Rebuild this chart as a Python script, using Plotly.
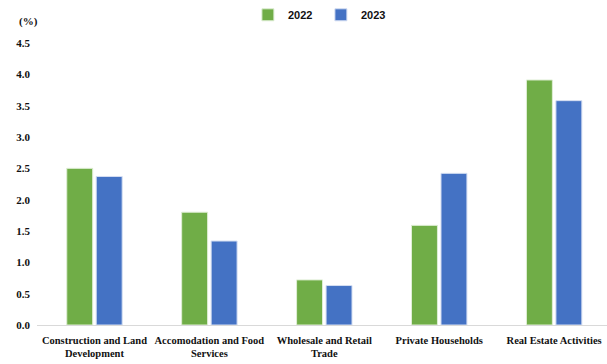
import plotly.graph_objects as go

categories = [
    "Construction and Land<br>Development",
    "Accomodation and Food<br>Services",
    "Wholesale and Retail<br>Trade",
    "Private Households",
    "Real Estate Activities",
]
values_2022 = [2.50, 1.80, 0.72, 1.59, 3.91]
values_2023 = [2.37, 1.34, 0.63, 2.42, 3.58]
y_ticks = [0.0, 0.5, 1.0, 1.5, 2.0, 2.5, 3.0, 3.5, 4.0, 4.5]

GREEN = "#70AD47"
BLUE = "#4472C4"
SERIF = "Liberation Serif"

fig = go.Figure()
fig.add_trace(go.Bar(
    name="2022", x=categories, y=values_2022,
    marker=dict(color=GREEN, line=dict(color="#dfeed5", width=1)),
))
fig.add_trace(go.Bar(
    name="2023", x=categories, y=values_2023,
    marker=dict(color=BLUE, line=dict(color="#d4def2", width=1)),
))

fig.update_layout(
    width=607, height=364,
    margin=dict(l=37, r=0, t=43, b=39, autoexpand=False),
    paper_bgcolor="white", plot_bgcolor="white",
    barmode="group", bargap=0.487, bargroupgap=0.12,
    showlegend=True,
    legend=dict(
        orientation="h", x=0.37, xanchor="left", y=1.1, yanchor="middle",
        font=dict(family="Liberation Sans", size=11, color="#111111", weight="bold"),
        entrywidth=28, entrywidthmode="pixels",
        itemwidth=30, bgcolor="rgba(0,0,0,0)",
    ),
    font=dict(family=SERIF, color="#111111"),
)

fig.update_xaxes(
    type="category", range=[-0.5, 4.46],
    showline=True, linecolor="#d9d9d9", linewidth=1,
    showgrid=False, ticks="", tickangle=0, ticklabelstandoff=5,
    tickfont=dict(family=SERIF, size=10.5, color="#111111", weight="bold"),
)
fig.update_yaxes(
    range=[0, 4.5], tickvals=y_ticks,
    ticktext=[f"{v:.1f}" for v in y_ticks],
    showgrid=False, showline=False, zeroline=False,
    ticks="", ticklabelstandoff=6,
    tickfont=dict(family=SERIF, size=11, color="#111111", weight="bold"),
)

fig.add_annotation(
    text="(%)", xref="paper", yref="paper", x=-0.035, y=1.075,
    xanchor="left", yanchor="middle", showarrow=False,
    font=dict(family=SERIF, size=11, color="#111111", weight="bold"),
)

fig.write_html("out.html")
